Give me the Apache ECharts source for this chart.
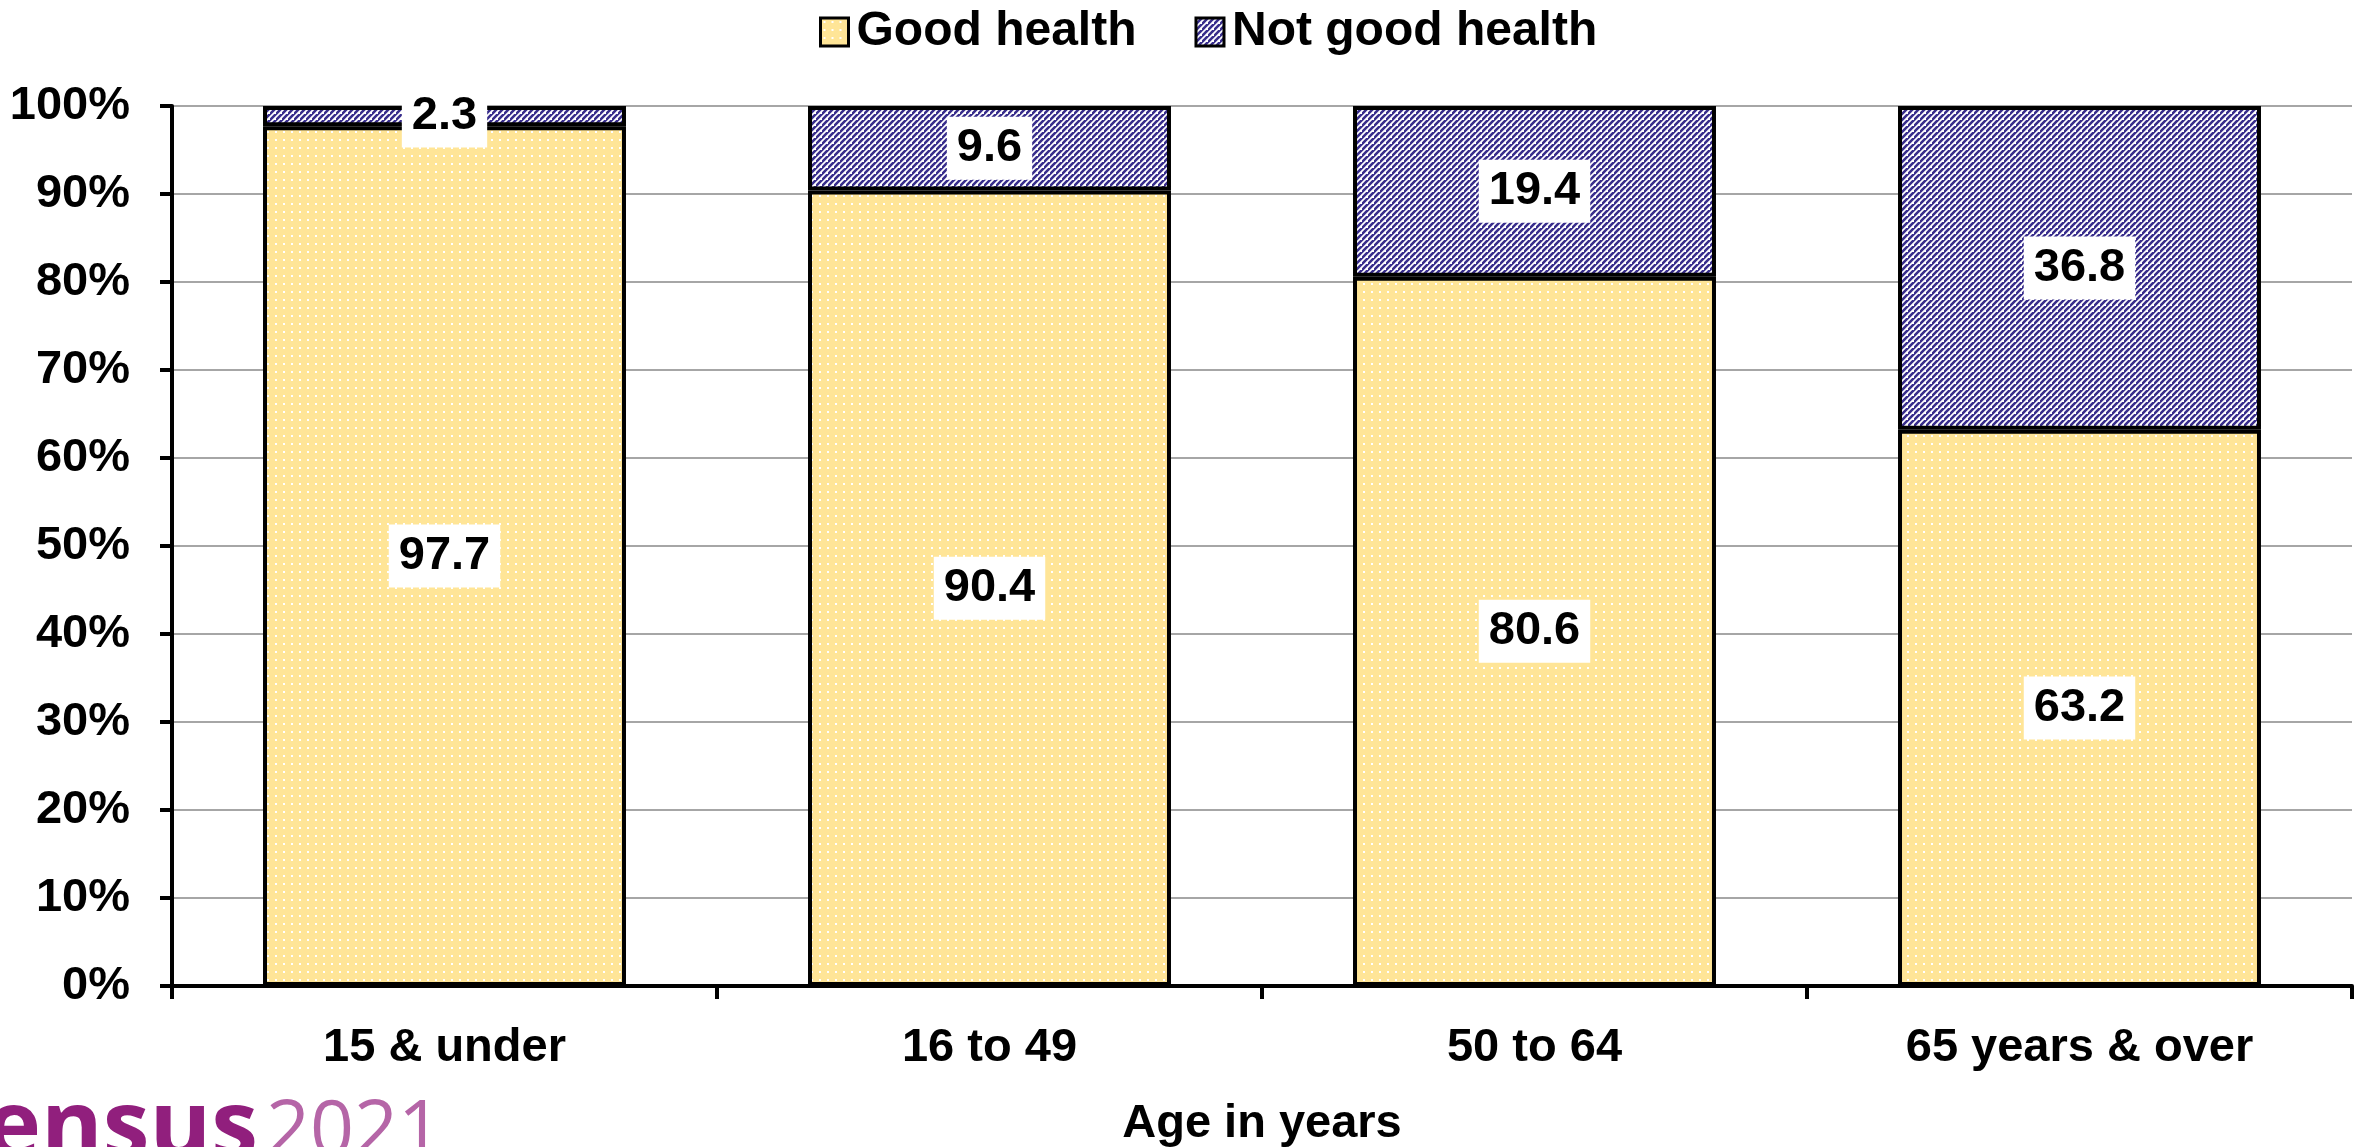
<!DOCTYPE html>
<html>
<head>
<meta charset="utf-8">
<script src="https://cdn.jsdelivr.net/npm/echarts@6/dist/echarts.min.js"></script>
<style>
html,body{margin:0;padding:0;background:#fff;}
#c{width:2371px;height:1147px;}
</style>
</head>
<body>
<div id="c"></div>
<script>
const categories = ['15 & under', '16 to 49', '50 to 64', '65 years & over'];
const goodHealth = [97.7, 90.4, 80.6, 63.2];
const notGoodHealth = [2.3, 9.6, 19.4, 36.8];
const seriesNames = ['Good health', 'Not good health'];
const yTicks = { min: 0, max: 100, interval: 10 };

function dotPattern() {
  const c = document.createElement('canvas');
  c.width = 8; c.height = 8;
  const g = c.getContext('2d');
  g.fillStyle = '#FFE597';
  g.fillRect(0, 0, 8, 8);
  g.fillStyle = '#ffffff';
  g.fillRect(3, 3, 2, 2);
  return { image: c, repeat: 'repeat' };
}
function hatchPattern() {
  const s = 6;
  const c = document.createElement('canvas');
  c.width = s; c.height = s;
  const g = c.getContext('2d');
  g.fillStyle = '#ffffff';
  g.fillRect(0, 0, s, s);
  g.strokeStyle = '#382d8c';
  g.lineWidth = 2.6;
  g.beginPath();
  g.moveTo(-1, s + 1); g.lineTo(s + 1, -1);
  g.moveTo(-1 - s, s + 1); g.lineTo(1, -1);
  g.moveTo(s - 1, 2 * s + 1); g.lineTo(2 * s + 1, s - 1);
  g.stroke();
  return { image: c, repeat: 'repeat' };
}

const FONT = '"Liberation Sans", Arial, sans-serif';
const FS = 47;
const labelStyle = {
  show: true,
  position: 'inside',
  color: '#000',
  fontFamily: FONT,
  fontWeight: 'bold',
  fontSize: FS,
  backgroundColor: '#fff',
  padding: [9, 10, 7, 10],
  formatter: p => p.value.toFixed(1)
};

const chart = echarts.init(document.getElementById('c'), null, { renderer: 'canvas' });
chart.setOption({
  animation: false,
  backgroundColor: '#fff',
  textStyle: { fontFamily: FONT },
  legend: {
    data: seriesNames,
    left: 814,
    top: 3,
    itemWidth: 28,
    itemHeight: 28,
    itemGap: 58,
    icon: 'rect',
    itemStyle: { borderWidth: 3, borderColor: '#000' },
    textStyle: { fontFamily: FONT, fontWeight: 'bold', fontSize: 48, color: '#000', padding: [0, 0, 0, 3] }
  },
  grid: { left: 172, right: 19, top: 106, bottom: 161, containLabel: false, outerBoundsMode: 'none' },
  xAxis: {
    type: 'category',
    data: categories,
    name: 'Age in years',
    nameLocation: 'middle',
    nameGap: 115,
    nameTextStyle: { fontFamily: FONT, fontWeight: 'bold', fontSize: FS, color: '#000' },
    axisLine: { lineStyle: { color: '#000', width: 4 } },
    axisTick: { show: true, length: 13, lineStyle: { color: '#000', width: 4 } },
    axisLabel: { margin: 39, fontFamily: FONT, fontWeight: 'bold', fontSize: FS, color: '#000' }
  },
  yAxis: {
    type: 'value',
    min: yTicks.min,
    max: yTicks.max,
    interval: yTicks.interval,
    axisLine: { show: true, lineStyle: { color: '#000', width: 4 } },
    axisTick: { show: true, length: 12, lineStyle: { color: '#000', width: 4 } },
    axisLabel: { margin: 42, fontFamily: FONT, fontWeight: 'bold', fontSize: FS, color: '#000', formatter: '{value}%' },
    splitLine: { lineStyle: { color: '#A6A6A6', width: 2 } }
  },
  series: [
    {
      name: seriesNames[0],
      type: 'bar',
      stack: 'total',
      data: goodHealth,
      barCategoryGap: '33.4%',
      itemStyle: { color: dotPattern(), borderColor: '#000', borderWidth: 4 },
      label: labelStyle,
      z: 2
    },
    {
      name: seriesNames[1],
      type: 'bar',
      stack: 'total',
      data: notGoodHealth,
      barCategoryGap: '33.4%',
      itemStyle: { color: hatchPattern(), borderColor: '#000', borderWidth: 4 },
      label: labelStyle,
      z: 2
    }
  ],
  graphic: [
    {
      type: 'text',
      style: {
        text: 'census',
        x: 258, y: 1177,
        textAlign: 'right',
        textVerticalAlign: 'bottom',
        fontFamily: '"Open Sans", "Noto Sans", sans-serif',
        fontWeight: 'bold',
        fontSize: 94,
        fill: '#911F7D'
      }
    },
    {
      type: 'text',
      style: {
        text: '2021',
        x: 266, y: 1172,
        textAlign: 'left',
        textVerticalAlign: 'bottom',
        fontFamily: '"Open Sans", "Noto Sans", sans-serif',
        fontWeight: 'normal',
        fontSize: 77,
        fill: '#B565A7'
      }
    }
  ]
});
</script>
</body>
</html>
